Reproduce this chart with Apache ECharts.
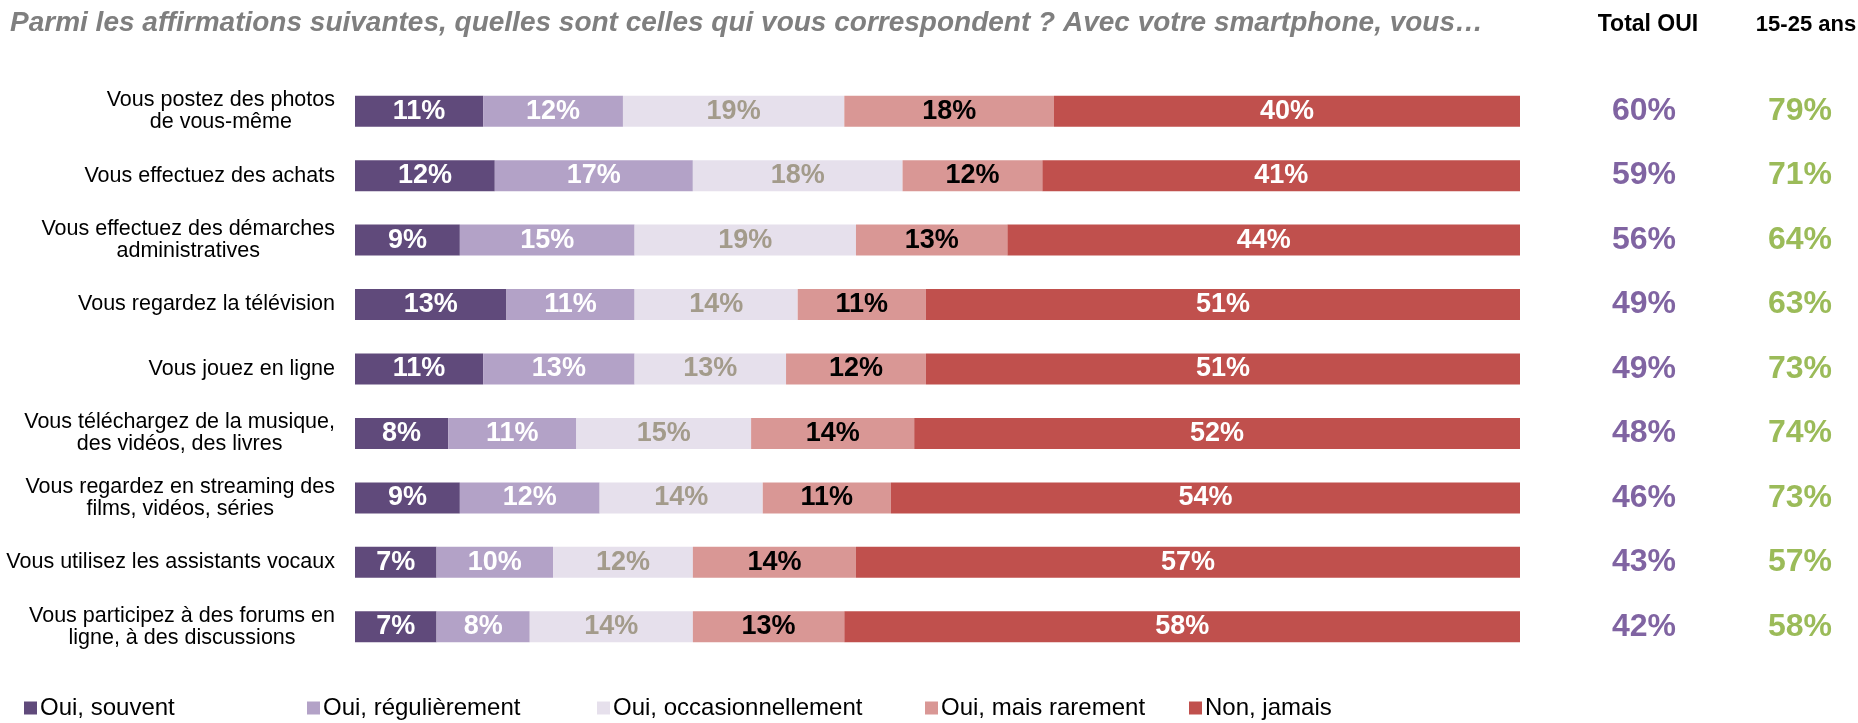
<!DOCTYPE html>
<html>
<head>
<meta charset="utf-8">
<script src="https://cdn.jsdelivr.net/npm/echarts@6/dist/echarts.min.js"></script>
<style>
  html, body { margin: 0; padding: 0; background: #fff; }
  #chart { width: 1858px; height: 723px; }
</style>
</head>
<body>
<div id="chart"></div>
<script>
// libellés des lignes
const categories = [
  'Vous postez des photos\nde vous-même',
  'Vous effectuez des achats',
  'Vous effectuez des démarches\nadministratives',
  'Vous regardez la télévision',
  'Vous jouez en ligne',
  'Vous téléchargez de la musique,\ndes vidéos, des livres',
  'Vous regardez en streaming des\nfilms, vidéos, séries',
  'Vous utilisez les assistants vocaux',
  'Vous participez à des forums en\nligne, à des discussions'
]
const seriesNames = ['Oui, souvent', 'Oui, régulièrement', 'Oui, occasionnellement', 'Oui, mais rarement', 'Non, jamais']
const ouiSouvent = [11, 12, 9, 13, 11, 8, 9, 7, 7]
const ouiRegulierement = [12, 17, 15, 11, 13, 11, 12, 10, 8]
const ouiOccasionnellement = [19, 18, 19, 14, 13, 15, 14, 12, 14]
const ouiRarement = [18, 12, 13, 11, 12, 14, 11, 14, 13]
const nonJamais = [40, 41, 44, 51, 51, 52, 54, 57, 58]
const totalOui = [60, 59, 56, 49, 49, 48, 46, 43, 42]
const jeunes = [79, 71, 64, 63, 73, 74, 73, 57, 58]

const FONT = 'Arial, "Liberation Sans", sans-serif'
const colors = ['#604a7b', '#b3a2c7', '#e6e0ec', '#d99795', '#c0504d']
const labelColors = ['#ffffff', '#ffffff', '#a39b8b', '#000000', '#ffffff']
const values = [ouiSouvent, ouiRegulierement, ouiOccasionnellement, ouiRarement, nonJamais]
const legendLeft = [19, 302, 592, 920, 1184]

const chart = echarts.init(document.getElementById('chart'))

const option = {
  animation: false,
  title: [
    {
      text: 'Parmi les affirmations suivantes, quelles sont celles qui vous correspondent ? Avec votre smartphone, vous…',
      left: 5,
      top: 4,
      textStyle: { fontFamily: FONT, fontSize: 28, fontWeight: 'bold', fontStyle: 'italic', color: '#7f7f7f' }
    },
    {
      text: 'Total OUI',
      left: 1643,
      top: 8,
      textAlign: 'center',
      textStyle: { fontFamily: FONT, fontSize: 23, fontWeight: 'bold', color: '#000' }
    },
    {
      text: '15-25 ans',
      left: 1801,
      top: 9,
      textAlign: 'center',
      textStyle: { fontFamily: FONT, fontSize: 22, fontWeight: 'bold', color: '#000' }
    }
  ],
  legend: seriesNames.map((name, i) => ({
    data: [name],
    left: legendLeft[i],
    top: 691,
    icon: 'rect',
    itemWidth: 13,
    itemHeight: 13,
    itemGap: 0,
    selectedMode: false,
    textStyle: { fontFamily: FONT, fontSize: 24, color: '#000', padding: [0, 0, 0, -2] }
  })),
  grid: {
    left: 355,
    right: 338,
    top: 79,
    height: 580
  },
  xAxis: {
    type: 'value',
    min: 0,
    max: 100,
    show: false
  },
  yAxis: [
    {
      type: 'category',
      inverse: true,
      data: categories,
      axisLine: { show: false },
      axisTick: { show: false },
      axisLabel: {
        margin: 20,
        fontFamily: FONT,
        fontSize: 21.5,
        lineHeight: 22,
        color: '#000',
        formatter: (v) => v.split('\n').map(l => '{c|' + l + '}').join('\n'),
        rich: {
          c: { align: 'center', fontFamily: FONT, fontSize: 21.5, lineHeight: 22, color: '#000' }
        }
      }
    },
    {
      type: 'category',
      inverse: true,
      position: 'right',
      data: categories,
      axisLine: { show: false },
      axisTick: { show: false },
      axisLabel: {
        margin: 124,
        align: 'center',
        fontFamily: FONT,
        fontSize: 32,
        fontWeight: 'bold',
        color: '#8064a2',
        formatter: (v, i) => totalOui[i] + '%'
      }
    },
    {
      type: 'category',
      inverse: true,
      position: 'right',
      data: categories,
      axisLine: { show: false },
      axisTick: { show: false },
      axisLabel: {
        margin: 280,
        align: 'center',
        fontFamily: FONT,
        fontSize: 32,
        fontWeight: 'bold',
        color: '#9bbb59',
        formatter: (v, i) => jeunes[i] + '%'
      }
    }
  ],
  series: seriesNames.map((name, i) => ({
    name: name,
    type: 'bar',
    stack: 'total',
    barWidth: 31,
    data: values[i],
    itemStyle: { color: colors[i] },
    label: {
      show: true,
      position: 'inside',
      formatter: '{c}%',
      fontFamily: FONT,
      fontSize: 27,
      fontWeight: 'bold',
      color: labelColors[i]
    }
  }))
}

chart.setOption(option)
</script>
</body>
</html>
